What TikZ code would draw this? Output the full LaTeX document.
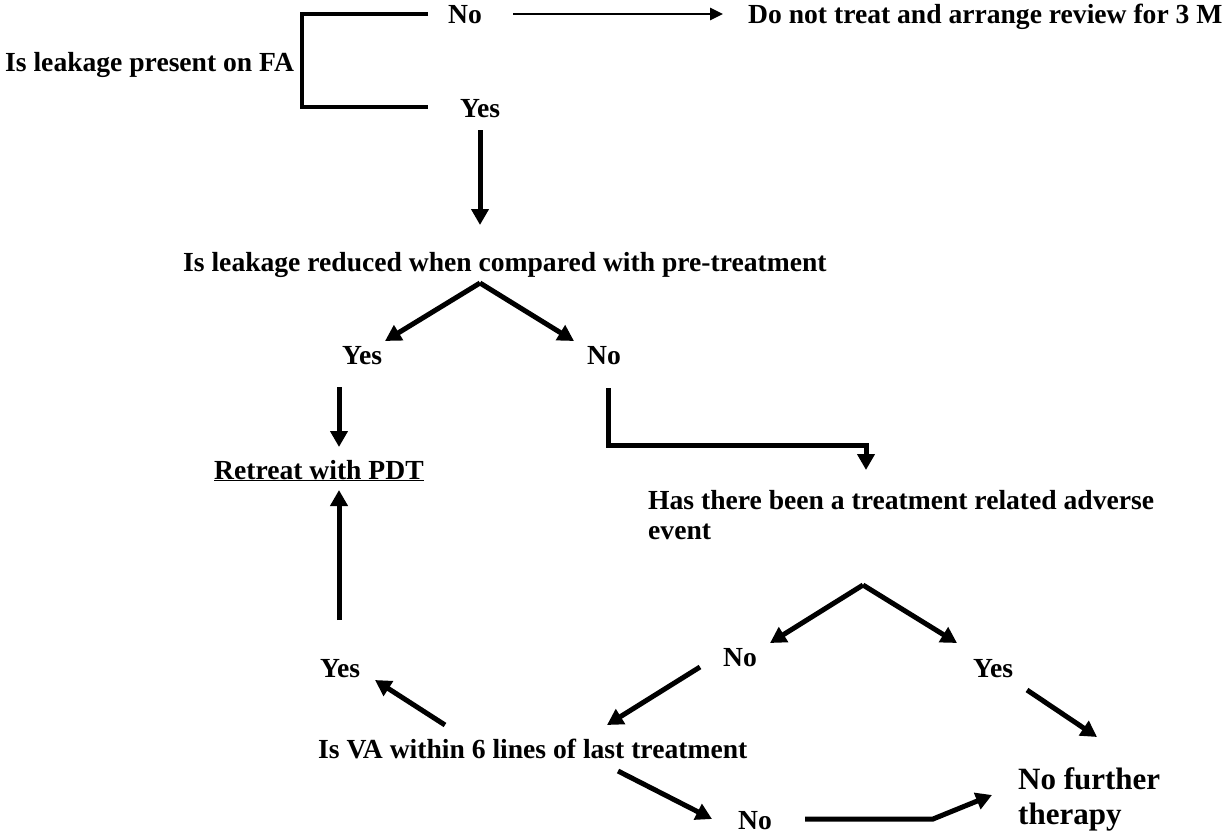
\documentclass[tikz,border=0pt]{standalone}
\usepackage{fontspec}
\setmainfont{Liberation Serif}
\usetikzlibrary{arrows.meta,positioning}

\begin{document}
\begin{tikzpicture}[
  x=1pt, y=-1pt,
  lbl/.style={font=\bfseries\fontsize{27.6}{31}\selectfont, inner sep=0pt, anchor=base west},
  para/.style={font=\bfseries\fontsize{27.6}{30}\selectfont, inner sep=0pt, anchor=north west, align=left},
  big/.style={font=\bfseries\fontsize{31}{35}\selectfont, inner sep=0pt, anchor=north west, align=left},
  arrow/.style={-{Triangle[length=16pt, width=17pt]}, line width=5pt},
  thinarrow/.style={-{Triangle[length=13pt, width=12pt]}, line width=2.5pt},
  bracket/.style={line width=4.5pt}
]
\useasboundingbox (0,0) rectangle (1230,835);

% question texts and answers
\node[lbl] (leak) at (5,71) {Is leakage present on FA};
\node[lbl] (noA) at (448,23) {No};
\node[lbl] (review) at (748,23) {Do not treat and arrange review for 3 M};
\node[lbl] (yesA) at (460,117) {Yes};
\node[lbl] (reduced) at (183,271) {Is leakage reduced when compared with pre-treatment};
\node[lbl] (yesB) at (342,364) {Yes};
\node[lbl] (noB) at (587,364) {No};
\node[lbl] (retreat) at (214,479) {\underline{Retreat with PDT}};
\node[para] (adverse) at (648,490) {Has there been a treatment related adverse\\event};
\node[lbl] (noC) at (723,666) {No};
\node[lbl] (yesC) at (973,677) {Yes};
\node[lbl] (yesD) at (320,677) {Yes};
\node[lbl] (visual) at (318,758) {Is VA within 6 lines of last treatment};
\node[lbl] (noD) at (738,829) {No};
\node[big] (stop) at (1018,767) {No further\\therapy};

% connector ends
\coordinate (brTop) at (428,14);
\coordinate (brBot) at (428,107);
\coordinate (fwdA) at (513,14);
\coordinate (fwdB) at (723,14);
\coordinate (downA) at (480,130);
\coordinate (downB) at (480,225);
\coordinate (forkA) at (480,283);
\coordinate (tipYes) at (385,341);
\coordinate (tipNo) at (574,341);
\coordinate (yesOut) at (339,387);
\coordinate (yesIn) at (339,447);
\coordinate (noOut) at (608,388);
\coordinate (bendA) at (608,445);
\coordinate (bendB) at (866,445);
\coordinate (advIn) at (866,470);
\coordinate (upA) at (339,620);
\coordinate (upB) at (339,490);
\coordinate (forkB) at (863,585);
\coordinate (tipNoC) at (770,643);
\coordinate (tipYesC) at (957,643);
\coordinate (yesCout) at (1027,690);
\coordinate (stopIn) at (1097,737);
\coordinate (noCout) at (700,667);
\coordinate (vaIn) at (607,725);
\coordinate (vaOutL) at (445,725);
\coordinate (yesDin) at (375,680);
\coordinate (vaOutR) at (618,771);
\coordinate (noDin) at (712,819);
\coordinate (noDout) at (805,819);
\coordinate (kink) at (933,819);
\coordinate (stopIn2) at (992,795);

\draw[bracket] (brTop) -- ([xshift=8pt]brTop -| leak.east) -- ([xshift=8pt]brBot -| leak.east) -- (brBot);
\draw[thinarrow] (fwdA) -- (fwdB);
\draw[arrow] (downA) -- (downB);
\draw[arrow] (forkA) -- (tipYes);
\draw[arrow] (forkA) -- (tipNo);
\draw[arrow] (yesOut) -- (yesIn);
\draw[arrow] (noOut) -- (bendA) -- (bendB) -- (advIn);
\draw[arrow] (upA) -- (upB);
\draw[arrow] (forkB) -- (tipNoC);
\draw[arrow] (forkB) -- (tipYesC);
\draw[arrow] (yesCout) -- (stopIn);
\draw[arrow] (noCout) -- (vaIn);
\draw[arrow] (vaOutL) -- (yesDin);
\draw[arrow] (vaOutR) -- (noDin);
\draw[arrow] (noDout) -- (kink) -- (stopIn2);
\end{tikzpicture}
\end{document}
